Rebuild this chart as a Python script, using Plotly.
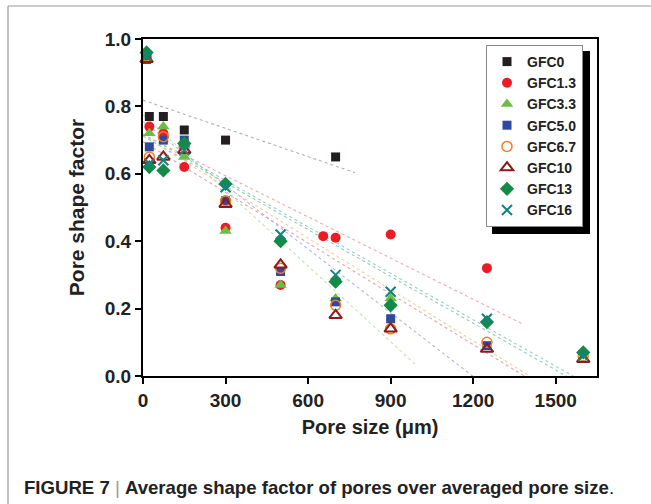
import numpy as np
import plotly.graph_objects as go

# ---- data ----
series_names = ["GFC0", "GFC1.3", "GFC3.3", "GFC5.0", "GFC6.7", "GFC10", "GFC13", "GFC16"]

x_gfc0 = [13, 23, 74, 150, 300, 700]
y_gfc0 = [0.94, 0.77, 0.77, 0.73, 0.70, 0.65]

x_gfc13 = [13, 23, 74, 150, 300, 500, 655, 700, 900, 1250]
y_gfc13 = [0.95, 0.74, 0.72, 0.62, 0.44, 0.27, 0.415, 0.41, 0.42, 0.32]

x_gfc33 = [13, 23, 74, 150, 300, 500, 700, 900]
y_gfc33 = [0.94, 0.72, 0.74, 0.65, 0.43, 0.27, 0.23, 0.23]

x_gfc50 = [13, 23, 74, 150, 300, 500, 700, 900, 1250]
y_gfc50 = [0.94, 0.68, 0.70, 0.70, 0.52, 0.31, 0.22, 0.17, 0.09]

x_gfc67 = [13, 23, 74, 150, 300, 500, 700, 900, 1250, 1600]
y_gfc67 = [0.95, 0.65, 0.71, 0.68, 0.52, 0.32, 0.21, 0.14, 0.10, 0.06]

x_gfc10 = [13, 23, 74, 150, 300, 500, 700, 900, 1250, 1600]
y_gfc10 = [0.94, 0.64, 0.65, 0.67, 0.51, 0.33, 0.18, 0.14, 0.08, 0.05]

x_gfc130 = [13, 23, 74, 150, 300, 500, 700, 900, 1250, 1600]
y_gfc130 = [0.96, 0.62, 0.61, 0.69, 0.57, 0.40, 0.28, 0.21, 0.16, 0.07]

x_gfc16 = [13, 23, 74, 150, 300, 500, 700, 900, 1250, 1600]
y_gfc16 = [0.95, 0.63, 0.64, 0.67, 0.56, 0.42, 0.30, 0.25, 0.17, 0.06]

x_ticks = [0, 300, 600, 900, 1200, 1500]
y_ticks = [0.0, 0.2, 0.4, 0.6, 0.8, 1.0]

# ---- styles ----
xs = [x_gfc0, x_gfc13, x_gfc33, x_gfc50, x_gfc67, x_gfc10, x_gfc130, x_gfc16]
ys = [y_gfc0, y_gfc13, y_gfc33, y_gfc50, y_gfc67, y_gfc10, y_gfc130, y_gfc16]
styles = [
    dict(symbol="square", color="#231f20", size=9, lw=0, fit="#b0b0b0"),
    dict(symbol="circle", color="#ec1c24", size=10, lw=0, fit="#f3a8a8"),
    dict(symbol="triangle-up", color="#6cbd45", size=11, lw=0, fit="#c4e2ae"),
    dict(symbol="square", color="#2e4a9e", size=9, lw=0, fit="#b0b4e0"),
    dict(symbol="circle-open", color="#f47f20", size=10, lw=1.5, fit="#f8caa0"),
    dict(symbol="triangle-up-open", color="#8b1c1c", size=11, lw=2, fit="#dca6ae"),
    dict(symbol="diamond", color="#138a45", size=11, lw=0, fit="#94ccac"),
    dict(symbol="x-thin-open", color="#12847f", size=10, lw=2, fit="#94cecc"),
]

FONT = "Liberation Sans, Arial, Helvetica, sans-serif"

# plot-area geometry (pixels) for decorations
L, R, T, B = 143, 54, 39, 128
W, H = 651, 504
PW, PH = W - L - R, H - T - B


def px(x):
    return (x - L) / PW


def py(y):
    return (H - B - y) / PH


fig = go.Figure()

# trend lines (linear fits)
for name, x, y, st in zip(series_names, xs, ys, styles):
    k, b = np.polyfit(np.array(x, float), np.array(y, float), 1)
    xl = np.array([0.0, 1.1 * max(x)])
    fig.add_trace(go.Scatter(x=xl, y=k * xl + b, mode="lines",
                             line=dict(color=st["fit"], width=1.1, dash="dot"),
                             showlegend=False, hoverinfo="skip"))

for name, x, y, st in zip(series_names, xs, ys, styles):
    fig.add_trace(go.Scatter(
        x=x, y=y, mode="markers", name=name,
        marker=dict(symbol=st["symbol"], color=st["color"], size=st["size"],
                    line=dict(color=st["color"], width=st["lw"])),
        cliponaxis=False,
    ))

axis_common = dict(
    showline=True, linecolor="black", linewidth=2, mirror=True,
    ticks="outside", ticklen=6, tickwidth=2, tickcolor="black",
    showgrid=False, zeroline=False,
    tickfont=dict(family=FONT, size=19, color="#222", weight="bold"),
)

fig.update_layout(
    width=W, height=H,
    margin=dict(l=L, r=R, t=T, b=B, pad=0),
    paper_bgcolor="white", plot_bgcolor="white",
    font=dict(family=FONT),
    xaxis=dict(range=[0, 1650], tickvals=x_ticks, ticktext=[str(v) for v in x_ticks],
               title=dict(text="Pore size (μm)", font=dict(family=FONT, size=20, color="#222", weight="bold"),
                          standoff=10),
               **axis_common),
    yaxis=dict(range=[0, 1.0], tickvals=y_ticks, ticktext=[f"{v:.1f}" for v in y_ticks],
               title=dict(text="Pore shape factor", font=dict(family=FONT, size=21, color="#222", weight="bold"),
                          standoff=14),
               **axis_common),
    legend=dict(x=px(486), y=py(45), xanchor="left", yanchor="top",
                bgcolor="white", bordercolor="#888", borderwidth=1,
                font=dict(family=FONT, size=14, color="#222", weight="bold"),
                tracegroupgap=0, itemsizing="trace"),
    shapes=[
        # legend shadow
        dict(type="rect", xref="paper", yref="paper",
             x0=px(492), x1=px(590), y0=py(234), y1=py(51),
             fillcolor="black", line=dict(width=0), layer="above"),
        # outer frame (left + top)
        dict(type="line", xref="paper", yref="paper", x0=px(8), x1=px(8), y0=py(6), y1=py(504),
             line=dict(color="#999", width=1.2)),
        dict(type="line", xref="paper", yref="paper", x0=px(8), x1=px(651), y0=py(6), y1=py(6),
             line=dict(color="#999", width=1.2)),
    ],
    annotations=[
        dict(text="<b>FIGURE 7</b> <span style='color:#999'>|</span> <b>Average shape factor of pores over averaged pore size</b>.",
             xref="paper", yref="paper", x=px(22), y=py(487), xanchor="left", yanchor="middle",
             showarrow=False, font=dict(family=FONT, size=18.6, color="#222")),
    ],
)

fig.write_html("out.html")
